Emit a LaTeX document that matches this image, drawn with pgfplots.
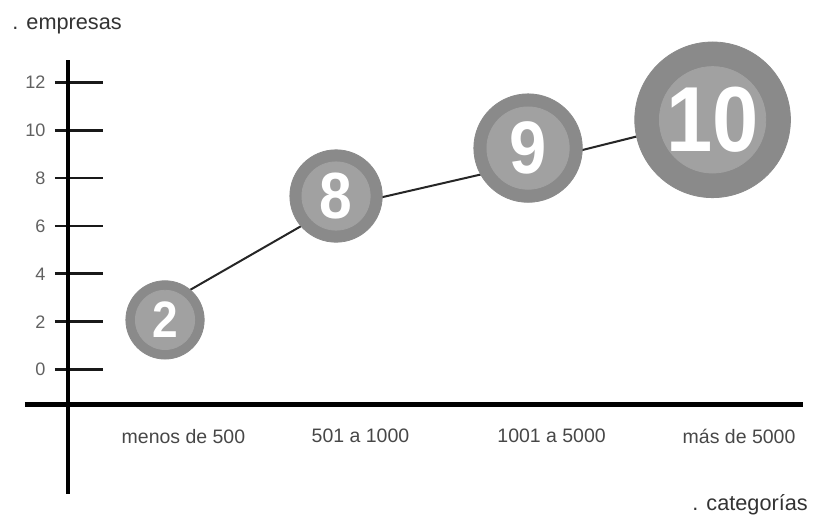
\documentclass[border=0pt]{standalone}
\usepackage{pgfplots}
\pgfplotsset{compat=1.18}
\usepackage{fontspec}
\setmainfont{Liberation Sans}
\definecolor{ringc}{HTML}{8A8A8A}
\definecolor{innerc}{HTML}{A1A1A1}
% x, y, outer radius, inner radius, font size, label
\newcommand{\bubble}[6]{%
  \addplot[only marks, mark=*, mark size=#3pt, draw=ringc, fill=ringc] coordinates {(#1,#2)};
  \addplot[only marks, mark=*, mark size=#4pt, draw=innerc, fill=innerc,
    nodes near coords={\scalebox{0.9}[1]{\fontsize{#5}{#5}\selectfont\bfseries #6}},
    every node near coord/.append style={anchor=center, inner sep=0pt, text=white}] coordinates {(#1,#2)};
}
\begin{document}
\begin{tikzpicture}
\begin{axis}[
  scale only axis, width=366pt, height=171.35pt,
  xmin=-0.532, xmax=3.499, ymin=-1.45, ymax=12.91,
  clip=false,
  axis x line*=bottom, axis y line*=left,
  x axis line style={draw=none}, y axis line style={draw=none},
  xtick={0.101,1.072,2.120,3.148},
  xticklabels={menos de 500, 501 a 1000, 1001 a 5000, más de 5000},
  xtick style={draw=none},
  xticklabel style={anchor=north, inner sep=0pt, yshift=-12pt, font=\fontsize{9.7}{12}\selectfont, text=black!72},
  ytick={0,2,...,12},
  ytick style={line width=1.4pt, black!90},
  tick align=inside,
  major tick length=17.5pt,
  extra y ticks={0,2,...,12},
  extra y tick labels={},
  extra y tick style={tick align=outside, major tick length=6.5pt},
  yticklabel style={anchor=east, inner sep=0pt, xshift=-11pt, font=\fontsize{9}{10}\selectfont, text=black!62},
  /pgf/number format/assume math mode=true,
]
% invisible frame for the page size
\path (axis cs:-0.905,15.43) rectangle (axis cs:3.581,-6.247);
% axis lines
\draw[line width=2pt, black] (axis cs:-0.768,-1.45) -- (axis cs:3.499,-1.45);
\draw[line width=2pt, black] (axis cs:-0.532,12.91) -- (axis cs:-0.532,-5.20);
% connecting line
\addplot[color=black!85, line width=1pt, mark=none] coordinates {(0,2.73) (0.91,6.71) (1.99,8.60) (3.0,10.52)};
% bubbles
\bubble{0}{2.08}{19.5}{14.75}{25.5}{2}
\bubble{0.938}{7.25}{23}{17}{32.5}{8}
\bubble{1.991}{9.25}{27}{20.5}{37}{9}
\bubble{3.003}{10.43}{38.75}{26.5}{46}{10}
% axis titles
\node[anchor=base west, inner sep=0pt, font=\fontsize{10.8}{13}\selectfont, text=black!80] at (axis cs:-0.839,14.21) {. empresas};
\node[anchor=base west, inner sep=0pt, font=\fontsize{10.8}{13}\selectfont, text=black!80] at (axis cs:2.890,-5.87) {. categorías};
\end{axis}
\end{tikzpicture}
\end{document}
